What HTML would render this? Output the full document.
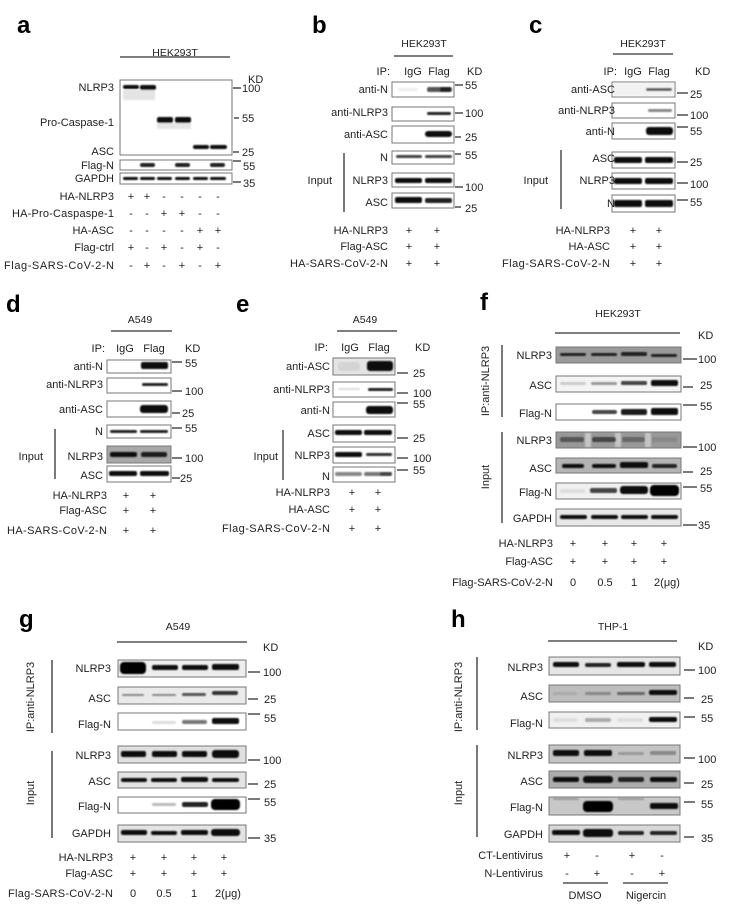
<!DOCTYPE html>
<html><head><meta charset="utf-8"><style>
html,body{margin:0;padding:0;background:#fff;}
svg{display:block;}
text{font-family:"Liberation Sans",Arial,sans-serif;fill:#222;font-size:11px;}
.t{font-size:10.5px;}
.L{font-size:24px;font-weight:bold;fill:#000;}
.e{text-anchor:end;}
.m{text-anchor:middle;}
.bx{fill:#fff;stroke:#777;stroke-width:1;}
.ln{stroke:#333;stroke-width:1.3;}
.tk{stroke:#333;stroke-width:1.3;}
</style></head><body>
<svg width="751" height="924" viewBox="0 0 751 924" xmlns="http://www.w3.org/2000/svg">
<defs>
<filter id="b" x="-20%" y="-50%" width="140%" height="200%"><feGaussianBlur stdDeviation="0.9"/></filter>
</defs>

<!-- ===== Panel a ===== -->
<text class="L" x="17" y="33">a</text>
<text class="t m" x="175" y="56">HEK293T</text>
<line class="ln" x1="120" y1="57" x2="230" y2="57"/>
<text x="248" y="83">KD</text>
<rect class="bx" x="120" y="80" width="112" height="75"/>
<g filter="url(#b)">
<rect x="123" y="85" width="16" height="4" rx="2" fill="#111"/>
<rect x="140" y="85" width="16" height="5" rx="2" fill="#111"/>
<rect x="123" y="90" width="32" height="10" fill="#e4e4e4"/>
<rect x="157" y="117" width="16" height="6" rx="2" fill="#111"/>
<rect x="175" y="117" width="16" height="6" rx="2" fill="#111"/>
<rect x="157" y="123" width="34" height="6" fill="#e6e6e6"/>
<rect x="193" y="145" width="16" height="4" rx="2" fill="#111"/>
<rect x="210" y="145" width="17" height="4" rx="2" fill="#111"/>
</g>
<rect class="bx" x="120" y="160" width="112" height="10"/>
<g filter="url(#b)">
<rect x="140" y="163" width="15" height="4" rx="2" fill="#222"/>
<rect x="175" y="163" width="15" height="4" rx="2" fill="#222"/>
<rect x="210" y="163" width="15" height="4" rx="2" fill="#222"/>
</g>
<rect class="bx" x="120" y="173" width="112" height="11"/>
<g filter="url(#b)">
<rect x="123" y="177" width="15" height="3" rx="1.5" fill="#111"/>
<rect x="140" y="177" width="15" height="3" rx="1.5" fill="#111"/>
<rect x="157" y="177" width="15" height="3" rx="1.5" fill="#111"/>
<rect x="175" y="177" width="15" height="3" rx="1.5" fill="#111"/>
<rect x="193" y="177" width="15" height="3" rx="1.5" fill="#111"/>
<rect x="210" y="177" width="16" height="3" rx="1.5" fill="#111"/>
</g>
<line class="tk" x1="233" y1="88" x2="241" y2="88"/><text x="242" y="92">100</text>
<line class="tk" x1="234" y1="118" x2="239" y2="118"/><text x="242" y="122">55</text>
<line class="tk" x1="233" y1="152" x2="239" y2="152"/><text x="242" y="156">25</text>
<line class="tk" x1="233" y1="161" x2="241" y2="161"/><text x="243" y="170">55</text>
<line class="tk" x1="233" y1="182" x2="241" y2="182"/><text x="243" y="187">35</text>
<text class="e" x="114" y="91">NLRP3</text>
<text class="e" x="114" y="126">Pro-Caspase-1</text>
<text class="e" x="114" y="155">ASC</text>
<text class="e" x="114" y="169">Flag-N</text>
<text class="e" x="114" y="182">GAPDH</text>
<text class="e" x="114" y="200">HA-NLRP3</text>
<text class="e" x="114" y="217" textLength="102">HA-Pro-Caspaspe-1</text>
<text class="e" x="114" y="234">HA-ASC</text>
<text class="e" x="114" y="251">Flag-ctrl</text>
<text class="e" x="114" y="269" textLength="110">Flag-SARS-CoV-2-N</text>
<g text-anchor="middle">
<text x="131" y="200">+</text><text x="147" y="200">+</text><text x="164" y="200">-</text><text x="182" y="200">-</text><text x="200" y="200">-</text><text x="218" y="200">-</text>
<text x="131" y="217">-</text><text x="147" y="217">-</text><text x="164" y="217">+</text><text x="182" y="217">+</text><text x="200" y="217">-</text><text x="218" y="217">-</text>
<text x="131" y="234">-</text><text x="147" y="234">-</text><text x="164" y="234">-</text><text x="182" y="234">-</text><text x="200" y="234">+</text><text x="218" y="234">+</text>
<text x="131" y="251">+</text><text x="147" y="251">-</text><text x="164" y="251">+</text><text x="182" y="251">-</text><text x="200" y="251">+</text><text x="218" y="251">-</text>
<text x="131" y="269">-</text><text x="147" y="269">+</text><text x="164" y="269">-</text><text x="182" y="269">+</text><text x="200" y="269">-</text><text x="218" y="269">+</text>
</g>

<!-- ===== Panel b ===== -->
<text class="L" x="312" y="33">b</text>
<text class="t m" x="424" y="47">HEK293T</text>
<line class="ln" x1="394" y1="56" x2="453" y2="56"/>
<text class="e" x="390" y="75">IP:</text>
<text class="m" x="413" y="75">IgG</text>
<text class="m" x="439" y="75">Flag</text>
<text x="467" y="75">KD</text>
<rect class="bx" x="392" y="82" width="62" height="15"/>
<rect class="bx" x="392" y="107" width="62" height="14"/>
<rect class="bx" x="392" y="126" width="62" height="17"/>
<rect class="bx" x="392" y="151" width="62" height="13"/>
<rect class="bx" x="392" y="173" width="62" height="14"/>
<rect class="bx" x="392" y="193" width="62" height="15"/>
<g filter="url(#b)">
<rect x="398" y="88" width="20" height="3" rx="1.5" fill="#eee"/>
<rect x="427" y="87" width="25" height="5" rx="2" fill="#555"/>
<rect x="440" y="87" width="11" height="5" rx="2" fill="#222"/>
<rect x="427" y="112" width="24" height="3" rx="1.5" fill="#222"/>
<rect x="425" y="131" width="27" height="6" rx="3" fill="#111"/>
<rect x="396" y="155" width="26" height="3" rx="1.5" fill="#444"/>
<rect x="425" y="155" width="27" height="3" rx="1.5" fill="#444"/>
<rect x="395" y="178" width="27" height="5" rx="2" fill="#111"/>
<rect x="425" y="178" width="27" height="5" rx="2" fill="#111"/>
<rect x="395" y="197" width="27" height="6" rx="2" fill="#111"/>
<rect x="425" y="198" width="27" height="5" rx="2" fill="#222"/>
</g>
<line class="tk" x1="455" y1="85" x2="463" y2="85"/><text x="465" y="89">55</text>
<line class="tk" x1="455" y1="113" x2="463" y2="113"/><text x="465" y="117">100</text>
<line class="tk" x1="455" y1="137" x2="461" y2="137"/><text x="465" y="141">25</text>
<line class="tk" x1="455" y1="154" x2="461" y2="154"/><text x="465" y="159">55</text>
<line class="tk" x1="455" y1="187" x2="463" y2="187"/><text x="465" y="191">100</text>
<line class="tk" x1="455" y1="207" x2="461" y2="207"/><text x="465" y="212">25</text>
<text class="e" x="388" y="93">anti-N</text>
<text class="e" x="388" y="116">anti-NLRP3</text>
<text class="e" x="388" y="138">anti-ASC</text>
<text class="e" x="388" y="161">N</text>
<text class="e" x="388" y="184">NLRP3</text>
<text class="e" x="388" y="206">ASC</text>
<line class="ln" x1="344" y1="153" x2="344" y2="212"/>
<text class="e" x="332" y="184">Input</text>
<text class="e" x="388" y="234">HA-NLRP3</text>
<text class="e" x="388" y="250">Flag-ASC</text>
<text class="e" x="388" y="267" textLength="98">HA-SARS-CoV-2-N</text>
<g text-anchor="middle">
<text x="409" y="234">+</text><text x="437" y="234">+</text>
<text x="409" y="250">+</text><text x="437" y="250">+</text>
<text x="409" y="267">+</text><text x="437" y="267">+</text>
</g>

<!-- ===== Panel c ===== -->
<text class="L" x="529" y="33">c</text>
<text class="t m" x="643" y="47">HEK293T</text>
<line class="ln" x1="613" y1="54" x2="673" y2="54"/>
<text class="e" x="617" y="75">IP:</text>
<text class="m" x="633" y="75">IgG</text>
<text class="m" x="659" y="75">Flag</text>
<text x="695" y="75">KD</text>
<rect class="bx" x="612" y="82" width="63" height="15"/>
<rect class="bx" x="612" y="103" width="63" height="15"/>
<rect class="bx" x="612" y="123" width="63" height="16"/>
<rect class="bx" x="612" y="152" width="63" height="16"/>
<rect class="bx" x="612" y="173" width="63" height="16"/>
<rect class="bx" x="612" y="195" width="63" height="17"/>
<g filter="url(#b)">
<rect x="613" y="83" width="61" height="13" fill="#f2f2f2"/>
<rect x="646" y="88" width="26" height="3" rx="1.5" fill="#555"/>
<rect x="648" y="109" width="24" height="3" rx="1.5" fill="#888"/>
<rect x="646" y="127" width="27" height="8" rx="3" fill="#0c0c0c"/>
<rect x="614" y="157" width="28" height="6" rx="2" fill="#111"/>
<rect x="645" y="157" width="28" height="6" rx="2" fill="#111"/>
<rect x="614" y="178" width="28" height="6" rx="2" fill="#0c0c0c"/>
<rect x="645" y="178" width="28" height="6" rx="2" fill="#0c0c0c"/>
<rect x="614" y="200" width="28" height="7" rx="2" fill="#111"/>
<rect x="645" y="200" width="28" height="7" rx="2" fill="#111"/>
</g>
<line class="tk" x1="677" y1="93" x2="688" y2="93"/><text x="690" y="98">25</text>
<line class="tk" x1="677" y1="115" x2="688" y2="115"/><text x="690" y="119">100</text>
<line class="tk" x1="677" y1="127" x2="688" y2="127"/><text x="690" y="135">55</text>
<line class="tk" x1="677" y1="162" x2="688" y2="162"/><text x="690" y="166">25</text>
<line class="tk" x1="677" y1="183" x2="688" y2="183"/><text x="690" y="188">100</text>
<line class="tk" x1="677" y1="200" x2="688" y2="200"/><text x="690" y="206">55</text>
<text class="e" x="615" y="93">anti-ASC</text>
<text class="e" x="615" y="114">anti-NLRP3</text>
<text class="e" x="615" y="135">anti-N</text>
<text class="e" x="615" y="162">ASC</text>
<text class="e" x="615" y="184">NLRP3</text>
<text class="e" x="615" y="207">N</text>
<line class="ln" x1="561" y1="150" x2="561" y2="209"/>
<text class="e" x="548" y="184">Input</text>
<text class="e" x="610" y="234">HA-NLRP3</text>
<text class="e" x="610" y="250">HA-ASC</text>
<text class="e" x="610" y="267" textLength="108">Flag-SARS-CoV-2-N</text>
<g text-anchor="middle">
<text x="633" y="234">+</text><text x="659" y="234">+</text>
<text x="633" y="250">+</text><text x="659" y="250">+</text>
<text x="633" y="267">+</text><text x="659" y="267">+</text>
</g>

<!-- ===== Panel d ===== -->
<text class="L" x="6" y="312">d</text>
<text class="t m" x="140" y="323">A549</text>
<line class="ln" x1="111" y1="331" x2="172" y2="331"/>
<text class="e" x="105" y="352">IP:</text>
<text class="m" x="125" y="352">IgG</text>
<text class="m" x="154" y="352">Flag</text>
<text x="185" y="352">KD</text>
<rect class="bx" x="107" y="360" width="64" height="13"/>
<rect class="bx" x="107" y="378" width="64" height="15"/>
<rect class="bx" x="107" y="401" width="64" height="16"/>
<rect class="bx" x="107" y="425" width="64" height="13"/>
<rect class="bx" x="107" y="446" width="64" height="17" style="fill:#a8a8a8"/>
<rect class="bx" x="107" y="466" width="64" height="16"/>
<g filter="url(#b)">
<rect x="141" y="362" width="27" height="7" rx="2" fill="#111"/>
<rect x="142" y="383" width="26" height="3" rx="1.5" fill="#222"/>
<rect x="140" y="405" width="28" height="8" rx="3" fill="#0c0c0c"/>
<rect x="110" y="430" width="27" height="3" rx="1.5" fill="#222"/>
<rect x="140" y="430" width="28" height="3" rx="1.5" fill="#222"/>
<rect x="110" y="452" width="27" height="5" rx="2" fill="#111"/>
<rect x="141" y="452" width="26" height="5" rx="2" fill="#1a1a1a"/>
<rect x="109" y="471" width="28" height="5" rx="2" fill="#0c0c0c"/>
<rect x="140" y="471" width="29" height="5" rx="2" fill="#0c0c0c"/>
</g>
<line class="tk" x1="172" y1="362" x2="182" y2="362"/><text x="185" y="367">55</text>
<line class="tk" x1="172" y1="391" x2="182" y2="391"/><text x="185" y="395">100</text>
<line class="tk" x1="172" y1="413" x2="180" y2="413"/><text x="182" y="417">25</text>
<line class="tk" x1="172" y1="428" x2="182" y2="428"/><text x="185" y="432">55</text>
<line class="tk" x1="172" y1="458" x2="182" y2="458"/><text x="185" y="462">100</text>
<line class="tk" x1="172" y1="478" x2="180" y2="478"/><text x="180" y="482">25</text>
<text class="e" x="103" y="370">anti-N</text>
<text class="e" x="103" y="388">anti-NLRP3</text>
<text class="e" x="103" y="413">anti-ASC</text>
<text class="e" x="103" y="435">N</text>
<text class="e" x="103" y="460">NLRP3</text>
<text class="e" x="103" y="479">ASC</text>
<line class="ln" x1="55" y1="429" x2="55" y2="479"/>
<text class="e" x="43" y="460">Input</text>
<text class="e" x="107" y="499">HA-NLRP3</text>
<text class="e" x="107" y="514">Flag-ASC</text>
<text class="e" x="107" y="534" textLength="100">HA-SARS-CoV-2-N</text>
<g text-anchor="middle">
<text x="126" y="499">+</text><text x="153" y="499">+</text>
<text x="126" y="514">+</text><text x="153" y="514">+</text>
<text x="126" y="534">+</text><text x="153" y="534">+</text>
</g>

<!-- ===== Panel e ===== -->
<text class="L" x="236" y="312">e</text>
<text class="t m" x="365" y="323">A549</text>
<line class="ln" x1="337" y1="331" x2="397" y2="331"/>
<text class="e" x="328" y="351">IP:</text>
<text class="m" x="350" y="351">IgG</text>
<text class="m" x="379" y="351">Flag</text>
<text x="415" y="351">KD</text>
<rect class="bx" x="333" y="358" width="62" height="17" style="fill:#e4e4e4"/>
<rect class="bx" x="333" y="382" width="62" height="15"/>
<rect class="bx" x="333" y="402" width="62" height="15"/>
<rect class="bx" x="333" y="425" width="62" height="17"/>
<rect class="bx" x="333" y="447" width="62" height="16"/>
<rect class="bx" x="333" y="467" width="62" height="15"/>
<g filter="url(#b)">
<rect x="338" y="362" width="22" height="9" rx="3" fill="#d4d4d4"/>
<rect x="367" y="361" width="26" height="10" rx="3" fill="#080808"/>
<rect x="338" y="388" width="22" height="2" rx="1" fill="#ddd"/>
<rect x="368" y="388" width="25" height="3" rx="1.5" fill="#222"/>
<rect x="366" y="406" width="27" height="8" rx="3" fill="#0c0c0c"/>
<rect x="335" y="430" width="27" height="5" rx="2" fill="#111"/>
<rect x="364" y="430" width="28" height="5" rx="2" fill="#111"/>
<rect x="335" y="452" width="27" height="5" rx="2" fill="#111"/>
<rect x="366" y="453" width="26" height="3" rx="1.5" fill="#333"/>
<rect x="335" y="472" width="27" height="4" rx="2" fill="#888"/>
<rect x="364" y="472" width="28" height="4" rx="2" fill="#777"/>
<rect x="380" y="472" width="12" height="4" rx="2" fill="#444"/>
</g>
<line class="tk" x1="397" y1="373" x2="408" y2="373"/><text x="413" y="377">25</text>
<line class="tk" x1="397" y1="393" x2="408" y2="393"/><text x="413" y="397">100</text>
<line class="tk" x1="397" y1="403" x2="408" y2="403"/><text x="413" y="408">55</text>
<line class="tk" x1="397" y1="438" x2="408" y2="438"/><text x="413" y="442">25</text>
<line class="tk" x1="397" y1="458" x2="408" y2="458"/><text x="413" y="462">100</text>
<line class="tk" x1="397" y1="470" x2="408" y2="470"/><text x="413" y="474">55</text>
<text class="e" x="330" y="370">anti-ASC</text>
<text class="e" x="330" y="393">anti-NLRP3</text>
<text class="e" x="330" y="414">anti-N</text>
<text class="e" x="330" y="437">ASC</text>
<text class="e" x="330" y="459">NLRP3</text>
<text class="e" x="330" y="480">N</text>
<line class="ln" x1="283" y1="430" x2="283" y2="480"/>
<text class="e" x="278" y="460">Input</text>
<text class="e" x="330" y="496">HA-NLRP3</text>
<text class="e" x="330" y="513">HA-ASC</text>
<text class="e" x="330" y="532" textLength="108">Flag-SARS-CoV-2-N</text>
<g text-anchor="middle">
<text x="352" y="496">+</text><text x="378" y="496">+</text>
<text x="352" y="513">+</text><text x="378" y="513">+</text>
<text x="352" y="532">+</text><text x="378" y="532">+</text>
</g>

<!-- ===== Panel f ===== -->
<text class="L" x="480" y="310">f</text>
<text class="t m" x="618" y="317">HEK293T</text>
<line class="ln" x1="555" y1="333" x2="680" y2="333"/>
<text x="698" y="339">KD</text>
<rect class="bx" x="556" y="347" width="125" height="16" style="fill:#9a9a9a"/>
<rect class="bx" x="556" y="376" width="125" height="16" style="fill:#f4f4f4"/>
<rect class="bx" x="556" y="404" width="125" height="16"/>
<rect class="bx" x="556" y="432" width="125" height="16" style="fill:#999"/>
<rect class="bx" x="556" y="458" width="125" height="15" style="fill:#b4b4b4"/>
<rect class="bx" x="556" y="483" width="125" height="16" style="fill:#f0f0f0"/>
<rect class="bx" x="556" y="509" width="125" height="17" style="fill:#e8e8e8"/>
<g filter="url(#b)">
<rect x="560" y="353" width="26" height="3" rx="1.5" fill="#222"/>
<rect x="591" y="353" width="26" height="3" rx="1.5" fill="#222"/>
<rect x="621" y="352" width="26" height="4" rx="1.5" fill="#222"/>
<rect x="651" y="354" width="26" height="3" rx="1.5" fill="#222"/>
<rect x="560" y="382" width="26" height="3" rx="1.5" fill="#ccc"/>
<rect x="591" y="382" width="26" height="3" rx="1.5" fill="#999"/>
<rect x="621" y="381" width="26" height="4" rx="1.5" fill="#444"/>
<rect x="651" y="380" width="27" height="6" rx="2" fill="#0c0c0c"/>
<rect x="592" y="410" width="25" height="4" rx="2" fill="#444"/>
<rect x="621" y="409" width="26" height="6" rx="2" fill="#1a1a1a"/>
<rect x="651" y="408" width="27" height="7" rx="2" fill="#0c0c0c"/>
<rect x="585" y="433" width="6" height="14" fill="#c4c4c4"/>
<rect x="615" y="433" width="6" height="14" fill="#c4c4c4"/>
<rect x="645" y="433" width="6" height="14" fill="#c4c4c4"/>
<rect x="560" y="437" width="24" height="5" rx="2" fill="#555"/>
<rect x="592" y="437" width="24" height="5" rx="2" fill="#444"/>
<rect x="622" y="437" width="23" height="5" rx="2" fill="#666"/>
<rect x="652" y="437" width="25" height="5" rx="2" fill="#888"/>
<rect x="562" y="464" width="22" height="4" rx="2" fill="#111"/>
<rect x="592" y="464" width="24" height="4" rx="2" fill="#111"/>
<rect x="620" y="462" width="28" height="6" rx="2" fill="#0c0c0c"/>
<rect x="652" y="464" width="25" height="4" rx="2" fill="#222"/>
<rect x="560" y="489" width="25" height="4" rx="2" fill="#ddd"/>
<rect x="590" y="488" width="27" height="5" rx="2" fill="#444"/>
<rect x="620" y="486" width="28" height="8" rx="3" fill="#0c0c0c"/>
<rect x="650" y="485" width="29" height="11" rx="4" fill="#050505"/>
<rect x="560" y="515" width="27" height="4" rx="2" fill="#111"/>
<rect x="591" y="515" width="27" height="4" rx="2" fill="#111"/>
<rect x="621" y="515" width="27" height="4" rx="2" fill="#111"/>
<rect x="651" y="515" width="27" height="4" rx="2" fill="#111"/>
</g>
<line class="tk" x1="683" y1="359" x2="697" y2="359"/><text x="698" y="363">100</text>
<line class="tk" x1="683" y1="387" x2="693" y2="387"/><text x="700" y="389">25</text>
<line class="tk" x1="683" y1="405" x2="697" y2="405"/><text x="700" y="410">55</text>
<line class="tk" x1="683" y1="447" x2="697" y2="447"/><text x="698" y="451">100</text>
<line class="tk" x1="683" y1="472" x2="693" y2="472"/><text x="700" y="475">25</text>
<line class="tk" x1="683" y1="487" x2="697" y2="487"/><text x="700" y="492">55</text>
<line class="tk" x1="683" y1="525" x2="697" y2="525"/><text x="698" y="529">35</text>
<text class="e" x="552" y="359">NLRP3</text>
<text class="e" x="552" y="389">ASC</text>
<text class="e" x="552" y="417">Flag-N</text>
<text class="e" x="552" y="444">NLRP3</text>
<text class="e" x="552" y="472">ASC</text>
<text class="e" x="552" y="496">Flag-N</text>
<text class="e" x="552" y="522">GAPDH</text>
<line class="ln" x1="502" y1="345" x2="502" y2="417"/>
<line class="ln" x1="502" y1="432" x2="502" y2="523"/>
<text class="m" transform="translate(489,381) rotate(-90)">IP:anti-NLRP3</text>
<text class="m" transform="translate(489,477) rotate(-90)">Input</text>
<text class="e" x="553" y="547">HA-NLRP3</text>
<text class="e" x="553" y="565">Flag-ASC</text>
<text class="e" x="553" y="586">Flag-SARS-CoV-2-N</text>
<g text-anchor="middle">
<text x="573" y="547">+</text><text x="605" y="547">+</text><text x="634" y="547">+</text><text x="664" y="547">+</text>
<text x="573" y="565">+</text><text x="605" y="565">+</text><text x="634" y="565">+</text><text x="664" y="565">+</text>
<text x="573" y="586">0</text><text x="605" y="586">0.5</text><text x="634" y="586">1</text><text x="667" y="586">2(μg)</text>
</g>

<!-- ===== Panel g ===== -->
<text class="L" x="19" y="627">g</text>
<text class="t m" x="178" y="630">A549</text>
<line class="ln" x1="117" y1="642" x2="247" y2="642"/>
<text x="263" y="651">KD</text>
<rect class="bx" x="118" y="660" width="128" height="17" style="fill:#eee"/>
<rect class="bx" x="118" y="687" width="128" height="17" style="fill:#eaeaea"/>
<rect class="bx" x="118" y="713" width="128" height="17"/>
<rect class="bx" x="118" y="746" width="128" height="17" style="fill:#e0e0e0"/>
<rect class="bx" x="118" y="772" width="128" height="16" style="fill:#e4e4e4"/>
<rect class="bx" x="118" y="797" width="128" height="16"/>
<rect class="bx" x="118" y="825" width="128" height="17" style="fill:#e4e4e4"/>
<g filter="url(#b)">
<rect x="120" y="662" width="26" height="12" rx="4" fill="#050505"/>
<rect x="152" y="665" width="26" height="5" rx="2" fill="#111"/>
<rect x="182" y="665" width="26" height="5" rx="2" fill="#111"/>
<rect x="212" y="664" width="27" height="6" rx="2" fill="#111"/>
<rect x="122" y="694" width="22" height="2" rx="1" fill="#888"/>
<rect x="152" y="694" width="24" height="2" rx="1" fill="#888"/>
<rect x="182" y="693" width="24" height="3" rx="1.5" fill="#555"/>
<rect x="212" y="691" width="26" height="4" rx="2" fill="#333"/>
<rect x="152" y="721" width="24" height="3" rx="1.5" fill="#ddd"/>
<rect x="182" y="720" width="25" height="4" rx="2" fill="#777"/>
<rect x="212" y="718" width="27" height="6" rx="2" fill="#111"/>
<rect x="121" y="751" width="25" height="6" rx="2" fill="#111"/>
<rect x="152" y="751" width="25" height="6" rx="2" fill="#111"/>
<rect x="182" y="751" width="25" height="6" rx="2" fill="#111"/>
<rect x="212" y="750" width="27" height="8" rx="3" fill="#0c0c0c"/>
<rect x="121" y="778" width="26" height="4" rx="2" fill="#111"/>
<rect x="151" y="778" width="26" height="4" rx="2" fill="#111"/>
<rect x="181" y="777" width="27" height="5" rx="2" fill="#0c0c0c"/>
<rect x="212" y="778" width="27" height="4" rx="2" fill="#111"/>
<rect x="152" y="803" width="24" height="3" rx="1.5" fill="#bbb"/>
<rect x="182" y="802" width="26" height="5" rx="2" fill="#222"/>
<rect x="211" y="799" width="29" height="11" rx="4" fill="#050505"/>
<rect x="121" y="830" width="26" height="5" rx="2" fill="#111"/>
<rect x="151" y="831" width="26" height="4" rx="2" fill="#111"/>
<rect x="181" y="830" width="27" height="5" rx="2" fill="#111"/>
<rect x="211" y="829" width="29" height="7" rx="3" fill="#0c0c0c"/>
</g>
<line class="tk" x1="248" y1="672" x2="260" y2="672"/><text x="263" y="676">100</text>
<line class="tk" x1="248" y1="699" x2="258" y2="699"/><text x="264" y="703">25</text>
<line class="tk" x1="248" y1="714" x2="260" y2="714"/><text x="264" y="722">55</text>
<line class="tk" x1="248" y1="760" x2="260" y2="760"/><text x="263" y="764">100</text>
<line class="tk" x1="248" y1="784" x2="258" y2="784"/><text x="264" y="788">25</text>
<line class="tk" x1="248" y1="799" x2="260" y2="799"/><text x="264" y="806">55</text>
<line class="tk" x1="248" y1="838" x2="260" y2="838"/><text x="264" y="842">35</text>
<text class="e" x="111" y="672">NLRP3</text>
<text class="e" x="111" y="702">ASC</text>
<text class="e" x="111" y="728">Flag-N</text>
<text class="e" x="111" y="759">NLRP3</text>
<text class="e" x="111" y="785">ASC</text>
<text class="e" x="111" y="810">Flag-N</text>
<text class="e" x="111" y="837">GAPDH</text>
<line class="ln" x1="52" y1="660" x2="52" y2="733"/>
<line class="ln" x1="52" y1="751" x2="52" y2="838"/>
<text class="m" transform="translate(34,697) rotate(-90)">IP:anti-NLRP3</text>
<text class="m" transform="translate(34,793) rotate(-90)">Input</text>
<text class="e" x="113" y="861">HA-NLRP3</text>
<text class="e" x="113" y="877">Flag-ASC</text>
<text class="e" x="113" y="897" textLength="105">Flag-SARS-CoV-2-N</text>
<g text-anchor="middle">
<text x="133" y="861">+</text><text x="164" y="861">+</text><text x="194" y="861">+</text><text x="224" y="861">+</text>
<text x="133" y="877">+</text><text x="164" y="877">+</text><text x="194" y="877">+</text><text x="224" y="877">+</text>
<text x="133" y="897">0</text><text x="164" y="897">0.5</text><text x="194" y="897">1</text><text x="228" y="897">2(μg)</text>
</g>

<!-- ===== Panel h ===== -->
<text class="L" x="451" y="627">h</text>
<text class="t m" x="613" y="630">THP-1</text>
<line class="ln" x1="548" y1="641" x2="677" y2="641"/>
<text x="698" y="650">KD</text>
<rect class="bx" x="549" y="657" width="131" height="18" style="fill:#e6e6e6"/>
<rect class="bx" x="549" y="685" width="131" height="17" style="fill:#bdbdbd"/>
<rect class="bx" x="549" y="712" width="131" height="16" style="fill:#f0f0f0"/>
<rect class="bx" x="549" y="745" width="131" height="18" style="fill:#c4c4c4"/>
<rect class="bx" x="549" y="771" width="131" height="17" style="fill:#adadad"/>
<rect class="bx" x="549" y="797" width="131" height="18" style="fill:#c8c8c8"/>
<rect class="bx" x="549" y="825" width="131" height="17" style="fill:#d8d8d8"/>
<g filter="url(#b)">
<rect x="553" y="662" width="26" height="5" rx="2" fill="#111"/>
<rect x="585" y="663" width="26" height="4" rx="2" fill="#222"/>
<rect x="617" y="662" width="28" height="5" rx="2" fill="#111"/>
<rect x="649" y="662" width="27" height="5" rx="2" fill="#111"/>
<rect x="553" y="692" width="24" height="3" rx="1.5" fill="#aaa"/>
<rect x="585" y="692" width="26" height="3" rx="1.5" fill="#888"/>
<rect x="617" y="692" width="28" height="3" rx="1.5" fill="#666"/>
<rect x="649" y="690" width="28" height="5" rx="2" fill="#111"/>
<rect x="553" y="718" width="24" height="4" rx="2" fill="#ddd"/>
<rect x="585" y="718" width="26" height="4" rx="2" fill="#aaa"/>
<rect x="617" y="718" width="26" height="4" rx="2" fill="#ddd"/>
<rect x="649" y="717" width="28" height="5" rx="2" fill="#111"/>
<rect x="553" y="750" width="26" height="6" rx="2" fill="#111"/>
<rect x="584" y="750" width="28" height="6" rx="2" fill="#111"/>
<rect x="618" y="752" width="26" height="3" rx="1.5" fill="#999"/>
<rect x="650" y="751" width="26" height="4" rx="1.5" fill="#888"/>
<rect x="553" y="777" width="26" height="5" rx="2" fill="#111"/>
<rect x="583" y="776" width="30" height="7" rx="3" fill="#0c0c0c"/>
<rect x="618" y="777" width="26" height="5" rx="2" fill="#222"/>
<rect x="650" y="777" width="27" height="5" rx="2" fill="#111"/>
<rect x="553" y="798" width="26" height="2" rx="1" fill="#999"/>
<rect x="618" y="798" width="26" height="2" rx="1" fill="#999"/>
<rect x="583" y="801" width="30" height="11" rx="4" fill="#050505"/>
<rect x="650" y="803" width="28" height="6" rx="2" fill="#111"/>
<rect x="552" y="830" width="28" height="5" rx="2" fill="#111"/>
<rect x="583" y="829" width="30" height="8" rx="3" fill="#0c0c0c"/>
<rect x="618" y="831" width="26" height="4" rx="2" fill="#222"/>
<rect x="650" y="831" width="27" height="4" rx="2" fill="#222"/>
</g>
<line class="tk" x1="684" y1="670" x2="695" y2="670"/><text x="698" y="674">100</text>
<line class="tk" x1="684" y1="698" x2="694" y2="698"/><text x="701" y="703">25</text>
<line class="tk" x1="684" y1="717" x2="695" y2="717"/><text x="701" y="722">55</text>
<line class="tk" x1="684" y1="758" x2="695" y2="758"/><text x="698" y="763">100</text>
<line class="tk" x1="684" y1="783" x2="694" y2="783"/><text x="701" y="788">25</text>
<line class="tk" x1="684" y1="802" x2="695" y2="802"/><text x="701" y="808">55</text>
<line class="tk" x1="684" y1="837" x2="694" y2="837"/><text x="701" y="842">35</text>
<text class="e" x="543" y="671">NLRP3</text>
<text class="e" x="543" y="700">ASC</text>
<text class="e" x="543" y="727">Flag-N</text>
<text class="e" x="543" y="759">NLRP3</text>
<text class="e" x="543" y="785">ASC</text>
<text class="e" x="543" y="811">Flag-N</text>
<text class="e" x="543" y="838">GAPDH</text>
<line class="ln" x1="477" y1="657" x2="477" y2="730"/>
<line class="ln" x1="477" y1="745" x2="477" y2="837"/>
<text class="m" transform="translate(462,697) rotate(-90)">IP:anti-NLRP3</text>
<text class="m" transform="translate(462,793) rotate(-90)">Input</text>
<text class="e" x="543" y="859">CT-Lentivirus</text>
<text class="e" x="543" y="877">N-Lentivirus</text>
<g text-anchor="middle">
<text x="567" y="859">+</text><text x="597" y="859">-</text><text x="632" y="859">+</text><text x="662" y="859">-</text>
<text x="567" y="877">-</text><text x="597" y="877">+</text><text x="632" y="877">-</text><text x="662" y="877">+</text>
</g>
<line class="ln" x1="563" y1="883" x2="608" y2="883"/>
<line class="ln" x1="623" y1="883" x2="668" y2="883"/>
<text class="m" x="585" y="899">DMSO</text>
<text class="m" x="646" y="899">Nigercin</text>
</svg>
</body></html>
